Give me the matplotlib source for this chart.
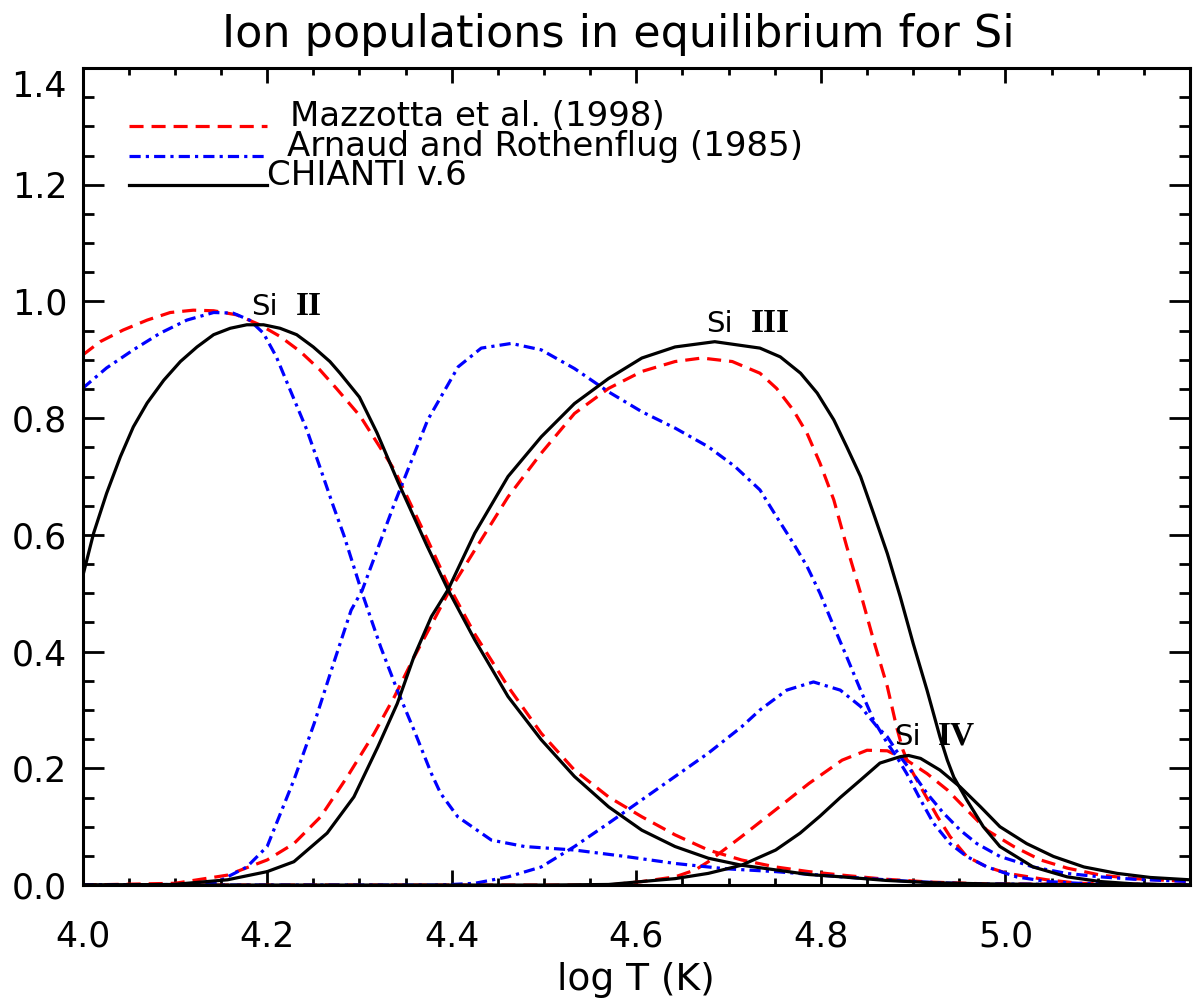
import matplotlib
matplotlib.use("Agg")
import matplotlib.pyplot as plt
from matplotlib.ticker import MultipleLocator, FuncFormatter

plt.rcParams['font.family'] = ['DejaVu Sans']

# CHIANTI v.6 (black solid)
chianti_si2_x = [4.000, 4.012, 4.026, 4.041, 4.055, 4.070, 4.088, 4.106, 4.124, 4.142, 4.160,
                 4.178, 4.196, 4.214, 4.232, 4.250, 4.268, 4.279, 4.300, 4.319, 4.342, 4.373,
                 4.396, 4.425, 4.461, 4.497, 4.533, 4.570, 4.606, 4.642, 4.678, 4.714, 4.751,
                 4.787, 4.823, 4.870, 4.920, 4.980, 5.050, 5.200]
chianti_si2_y = [0.528, 0.603, 0.671, 0.734, 0.785, 0.826, 0.865, 0.897, 0.922, 0.943, 0.954,
                 0.960, 0.960, 0.954, 0.943, 0.922, 0.897, 0.877, 0.836, 0.775, 0.690, 0.582,
                 0.506, 0.420, 0.323, 0.249, 0.186, 0.134, 0.094, 0.066, 0.046, 0.034, 0.026,
                 0.018, 0.014, 0.008, 0.004, 0.002, 0.001, 0.0]
chianti_si3_x = [4.000, 4.098, 4.157, 4.200, 4.229, 4.265, 4.294, 4.320, 4.341, 4.359, 4.378,
                 4.396, 4.425, 4.461, 4.497, 4.533, 4.570, 4.606, 4.642, 4.685, 4.734, 4.756,
                 4.778, 4.796, 4.814, 4.828, 4.843, 4.857, 4.872, 4.886, 4.900, 4.915, 4.929,
                 4.937, 4.944, 4.958, 4.976, 4.994, 5.030, 5.067, 5.103, 5.139, 5.200]
chianti_si3_y = [0.0, 0.001, 0.009, 0.023, 0.040, 0.089, 0.151, 0.237, 0.311, 0.391, 0.460,
                 0.506, 0.603, 0.700, 0.768, 0.825, 0.868, 0.903, 0.922, 0.931, 0.920, 0.905,
                 0.877, 0.843, 0.797, 0.751, 0.700, 0.637, 0.568, 0.494, 0.414, 0.334, 0.254,
                 0.214, 0.185, 0.146, 0.100, 0.066, 0.031, 0.014, 0.006, 0.002, 0.0]
chianti_si4_x = [4.000, 4.500, 4.570, 4.606, 4.642, 4.678, 4.714, 4.751, 4.7775, 4.799, 4.821,
                 4.843, 4.864, 4.886, 4.895, 4.908, 4.929, 4.951, 4.973, 4.994, 5.023, 5.052,
                 5.085, 5.121, 5.157, 5.200]
chianti_si4_y = [0.0, 0.0, 0.001, 0.006, 0.011, 0.020, 0.034, 0.060, 0.089, 0.118, 0.150,
                 0.180, 0.209, 0.220, 0.222, 0.217, 0.197, 0.168, 0.134, 0.100, 0.071, 0.049,
                 0.031, 0.020, 0.013, 0.009]

# Mazzotta et al. (1998) (red dashed)
mazz_si2_x = [4.000, 4.019, 4.044, 4.070, 4.095, 4.120, 4.142, 4.167, 4.192, 4.214, 4.236,
              4.257, 4.275, 4.301, 4.338, 4.374, 4.396, 4.425, 4.461, 4.497, 4.533, 4.570,
              4.606, 4.642, 4.678, 4.714, 4.751, 4.787, 4.823, 4.870, 4.920, 4.980, 5.200]
mazz_si2_y = [0.908, 0.931, 0.951, 0.968, 0.981, 0.985, 0.984, 0.977, 0.960, 0.940, 0.914,
              0.883, 0.851, 0.803, 0.711, 0.591, 0.515, 0.430, 0.340, 0.260, 0.197, 0.151,
              0.117, 0.086, 0.060, 0.043, 0.031, 0.023, 0.017, 0.010, 0.005, 0.002, 0.0]
mazz_si3_x = [4.000, 4.100, 4.157, 4.200, 4.229, 4.258, 4.287, 4.316, 4.338, 4.359, 4.381,
              4.396, 4.425, 4.461, 4.497, 4.533, 4.570, 4.606, 4.642, 4.671, 4.704, 4.734,
              4.752, 4.770, 4.785, 4.799, 4.814, 4.828, 4.843, 4.857, 4.872, 4.882, 4.889,
              4.897, 4.911, 4.926, 4.940, 4.958, 4.980, 5.002, 5.045, 5.080, 5.200]
mazz_si3_y = [0.0, 0.003, 0.017, 0.043, 0.071, 0.117, 0.186, 0.260, 0.323, 0.390, 0.455,
              0.500, 0.574, 0.665, 0.740, 0.808, 0.851, 0.880, 0.897, 0.903, 0.897, 0.877,
              0.851, 0.814, 0.774, 0.723, 0.660, 0.580, 0.500, 0.420, 0.340, 0.271, 0.231,
              0.200, 0.160, 0.118, 0.083, 0.049, 0.031, 0.020, 0.009, 0.003, 0.0]
mazz_si4_x = [4.000, 4.570, 4.606, 4.642, 4.664, 4.678, 4.714, 4.751, 4.787, 4.823, 4.850,
              4.872, 4.893, 4.915, 4.937, 4.958, 4.980, 5.009, 5.038, 5.067, 5.103, 5.139,
              5.200]
mazz_si4_y = [0.0, 0.0, 0.006, 0.014, 0.026, 0.040, 0.083, 0.129, 0.174, 0.214, 0.231,
              0.230, 0.214, 0.191, 0.163, 0.129, 0.094, 0.066, 0.043, 0.029, 0.017, 0.011,
              0.006]

# Arnaud and Rothenflug (1985) (blue dash-dot)
arn_si2_x = [4.000, 4.026, 4.055, 4.084, 4.113, 4.142, 4.163, 4.181, 4.196, 4.210, 4.225,
             4.243, 4.257, 4.272, 4.283, 4.303, 4.323, 4.341, 4.359, 4.378, 4.388, 4.4065,
             4.443, 4.479, 4.533, 4.588, 4.642, 4.696, 4.751, 4.823, 4.900, 4.960, 5.200]
arn_si2_y = [0.851, 0.886, 0.917, 0.9455, 0.968, 0.981, 0.980, 0.968, 0.9455, 0.905, 0.848,
             0.780, 0.717, 0.648, 0.600, 0.500, 0.408, 0.334, 0.266, 0.191, 0.157, 0.117,
             0.077, 0.066, 0.060, 0.049, 0.037, 0.028, 0.023, 0.014, 0.006, 0.002, 0.0]
arn_si3_x = [4.000, 4.100, 4.146, 4.178, 4.200, 4.229, 4.251, 4.272, 4.291, 4.303, 4.338,
             4.374, 4.407, 4.432, 4.4645, 4.497, 4.533, 4.570, 4.606, 4.642, 4.678, 4.707,
             4.734, 4.752, 4.770, 4.785, 4.799, 4.814, 4.828, 4.843, 4.857, 4.872, 4.882,
             4.893, 4.908, 4.922, 4.940, 4.958, 4.980, 5.012, 5.045, 5.080, 5.200]
arn_si3_y = [0.0, 0.001, 0.005, 0.031, 0.066, 0.180, 0.277, 0.380, 0.471, 0.505, 0.654,
             0.797, 0.888, 0.920, 0.928, 0.917, 0.885, 0.845, 0.811, 0.783, 0.751, 0.717,
             0.677, 0.631, 0.586, 0.546, 0.500, 0.443, 0.391, 0.334, 0.283, 0.243, 0.220,
             0.191, 0.146, 0.106, 0.071, 0.049, 0.031, 0.014, 0.006, 0.003, 0.0]
arn_si4_x = [4.000, 4.388, 4.425, 4.461, 4.497, 4.533, 4.570, 4.606, 4.642, 4.678, 4.714,
             4.734, 4.763, 4.792, 4.821, 4.843, 4.861, 4.872, 4.886, 4.900, 4.915, 4.933,
             4.951, 4.969, 4.994, 5.030, 5.066, 5.103, 5.139, 5.200]
arn_si4_y = [0.0, 0.0, 0.003, 0.014, 0.031, 0.066, 0.106, 0.146, 0.186, 0.226, 0.271,
             0.300, 0.334, 0.348, 0.334, 0.306, 0.271, 0.254, 0.220, 0.191, 0.157, 0.123,
             0.094, 0.071, 0.049, 0.031, 0.020, 0.014, 0.010, 0.006]

legend_labels = ['Mazzotta et al. (1998)', 'Arnaud and Rothenflug (1985)', 'CHIANTI v.6']
ion_names = ['II', 'III', 'IV']
ion_label_pos = [(4.183, 0.977), (4.676, 0.948), (4.879, 0.240)]

RED = '#ff0000'
BLUE = '#0000ff'
LW = 2.3
dash_red = (0, (4.4, 2.5))
dash_blue = (0, (3.5, 1.6, 1.0, 1.6))

fig = plt.figure(figsize=(12, 10.07), dpi=100)
ax = fig.add_axes([0.0688, 0.1211, 0.9917 - 0.0688, 0.9325 - 0.1211])

for xs, ys in [(mazz_si2_x, mazz_si2_y), (mazz_si3_x, mazz_si3_y), (mazz_si4_x, mazz_si4_y)]:
    ax.plot(xs, ys, color=RED, lw=LW, linestyle=dash_red)
for xs, ys in [(arn_si2_x, arn_si2_y), (arn_si3_x, arn_si3_y), (arn_si4_x, arn_si4_y)]:
    ax.plot(xs, ys, color=BLUE, lw=LW, linestyle=dash_blue)
for xs, ys in [(chianti_si2_x, chianti_si2_y), (chianti_si3_x, chianti_si3_y),
               (chianti_si4_x, chianti_si4_y)]:
    ax.plot(xs, ys, color='black', lw=LW, solid_joinstyle='round')

# hand-made legend, IDL style
leg_y = [1.30, 1.25, 1.20]
leg_text_x = [4.225, 4.222, 4.200]
leg_styles = [dict(color=RED, linestyle=dash_red), dict(color=BLUE, linestyle=dash_blue),
              dict(color='black', linestyle='-')]
for lab, y, tx, st in zip(legend_labels, leg_y, leg_text_x, leg_styles):
    ax.plot([4.05, 4.20], [y, y], lw=LW, **st)
    ax.text(tx, y, lab, fontsize=24.5, ha='left', va='baseline')

# ion labels
for name, (x, y) in zip(ion_names, ion_label_pos):
    ax.text(x, y, 'Si', fontsize=21, ha='left', va='baseline')
    ax.text(x + 0.048, y, name, fontsize=24, fontweight='bold',
            family='Liberation Serif', ha='left', va='baseline')

ax.set_xlim(4.0, 5.2)
ax.set_ylim(0.0, 1.4)

ax.xaxis.set_major_locator(MultipleLocator(0.2))
ax.xaxis.set_minor_locator(MultipleLocator(0.05))
ax.xaxis.set_major_formatter(FuncFormatter(lambda v, p: '' if v > 5.1 else '%.1f' % v))
ax.yaxis.set_major_locator(MultipleLocator(0.2))
ax.yaxis.set_minor_locator(MultipleLocator(0.05))
ax.yaxis.set_major_formatter(FuncFormatter(lambda v, p: '' if v > 1.3 else '%.1f' % v))

ax.tick_params(axis='both', which='both', direction='in', top=True, right=True, width=2.0)
ax.tick_params(axis='x', which='major', length=10.8, labelsize=25, pad=25)
ax.tick_params(axis='x', which='minor', length=5.2)
ax.tick_params(axis='y', which='major', length=15.0, labelsize=25, pad=11)
ax.tick_params(axis='y', which='minor', length=7.7)
for sp in ax.spines.values():
    sp.set_linewidth(2.2)

# IDL puts the top y label a little below its tick
ax.annotate('1.4', xy=(0, 1.4), xycoords=('axes fraction', 'data'), xytext=(-16, -16),
            textcoords='offset pixels', ha='right', va='center_baseline', fontsize=25)

fig.text(0.515, 0.9533, 'Ion populations in equilibrium for Si', fontsize=32,
         ha='center', va='baseline')
fig.text(0.530, 0.0169, 'log T (K)', fontsize=27, ha='center', va='baseline')

fig.savefig('out.png', dpi=100)
